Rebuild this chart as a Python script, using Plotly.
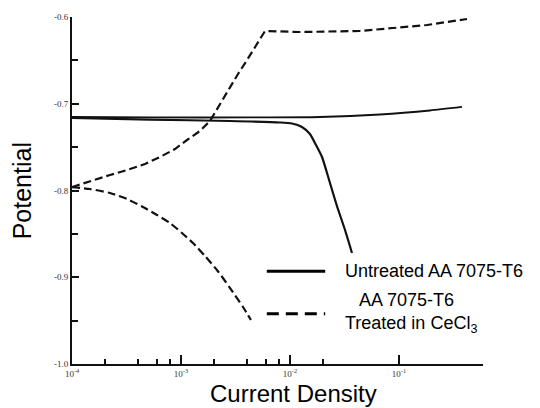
import plotly.graph_objects as go

# ---- data (log10 of current density, potential) ----
untreated_anodic_logi = [-4.000, -3.284, -2.367, -1.725, -1.174, -0.716, -0.422]
untreated_anodic_pot = [-0.7153, -0.7158, -0.7158, -0.7153, -0.7124, -0.7078, -0.7037]

untreated_cathodic_logi = [-4.000, -3.284, -2.550, -2.092, -1.982, -1.890, -1.817, -1.761,
                           -1.706, -1.633, -1.569, -1.495, -1.431]
untreated_cathodic_pot = [-0.7164, -0.7182, -0.7199, -0.7216, -0.7228, -0.7268, -0.7349, -0.7476,
                          -0.7614, -0.7914, -0.8179, -0.8455, -0.8720]

treated_anodic_logi = [-4.000, -3.807, -3.651, -3.495, -3.330, -3.193, -3.055, -2.945, -2.826,
                       -2.734, -2.642, -2.550, -2.477, -2.394, -2.312, -2.229, -1.908, -1.358,
                       -1.055, -0.743, -0.376]
treated_anodic_pot = [-0.7960, -0.7879, -0.7821, -0.7764, -0.7694, -0.7614, -0.7522, -0.7418,
                      -0.7314, -0.7199, -0.7003, -0.6807, -0.6657, -0.6496, -0.6323, -0.6161,
                      -0.6173, -0.6161, -0.6127, -0.6092, -0.6023]

treated_cathodic_logi = [-4.000, -3.835, -3.651, -3.495, -3.349, -3.220, -3.101, -2.991, -2.890,
                         -2.780, -2.670, -2.550, -2.431, -2.358]
treated_cathodic_pot = [-0.7960, -0.7983, -0.8029, -0.8098, -0.8190, -0.8282, -0.8375, -0.8490,
                        -0.8605, -0.8755, -0.8916, -0.9124, -0.9343, -0.9493]

x_tick_vals = [1e-4, 1e-3, 1e-2, 1e-1]
x_tick_text = ["10<sup>-4</sup>", "10<sup>-3</sup>", "10<sup>-2</sup>", "10<sup>-1</sup>"]
x_minor_vals = [2e-4, 4e-4, 6e-4, 8e-4, 2e-3, 4e-3, 6e-3, 8e-3, 2e-2]
y_tick_vals = [-1.0, -0.9, -0.8, -0.7, -0.6]
y_tick_text = ["-1.0", "-0.9", "-0.8", "-0.7", "-0.6"]

legend_labels = ["Untreated AA 7075-T6", "AA 7075-T6", "Treated in CeCl<sub>3</sub>"]
x_title = "Current Density"
y_title = "Potential"

ink = "#111111"


def tolin(v):
    return [10 ** a for a in v]


fig = go.Figure()
fig.add_trace(go.Scatter(x=tolin(untreated_anodic_logi), y=untreated_anodic_pot, mode="lines",
                         line=dict(color=ink, width=1.8, shape="spline", smoothing=0.6),
                         showlegend=False))
fig.add_trace(go.Scatter(x=tolin(untreated_cathodic_logi), y=untreated_cathodic_pot, mode="lines",
                         line=dict(color=ink, width=2.2, shape="spline", smoothing=0.6),
                         showlegend=False))
fig.add_trace(go.Scatter(x=tolin(treated_anodic_logi), y=treated_anodic_pot, mode="lines",
                         line=dict(color=ink, width=2.2, dash="8px,4px"),
                         showlegend=False))
fig.add_trace(go.Scatter(x=tolin(treated_cathodic_logi), y=treated_cathodic_pot, mode="lines",
                         line=dict(color=ink, width=2.2, dash="8px,4px", shape="spline", smoothing=0.6),
                         showlegend=False))

# legend drawn as line samples + text
fig.add_shape(type="line", xref="paper", yref="paper", x0=0.474, x1=0.616, y0=0.267, y1=0.267,
              line=dict(color="black", width=3))
fig.add_shape(type="line", xref="paper", yref="paper", x0=0.474, x1=0.616, y0=0.145, y1=0.145,
              line=dict(color="black", width=3, dash="12px,7px"))
fig.add_annotation(xref="paper", yref="paper", x=0.659, y=0.267, text=legend_labels[0],
                   showarrow=False, xanchor="left", yanchor="middle",
                   font=dict(family="Liberation Sans, Arial", size=18, color="black"))
fig.add_annotation(xref="paper", yref="paper", x=0.693, y=0.183, text=legend_labels[1],
                   showarrow=False, xanchor="left", yanchor="middle",
                   font=dict(family="Liberation Sans, Arial", size=18, color="black"))
fig.add_annotation(xref="paper", yref="paper", x=0.659, y=0.113, text=legend_labels[2],
                   showarrow=False, xanchor="left", yanchor="middle",
                   font=dict(family="Liberation Sans, Arial", size=18, color="black"))

# axis titles
fig.add_annotation(xref="paper", yref="paper", x=0.538, y=-0.085, text=x_title, showarrow=False,
                   xanchor="center", yanchor="middle",
                   font=dict(family="Liberation Sans, Arial", size=24, color="black"))
fig.add_annotation(xref="paper", yref="paper", x=-0.122, y=0.5, text=y_title, showarrow=False,
                   textangle=-90, xanchor="center", yanchor="middle",
                   font=dict(family="Liberation Sans, Arial", size=25, color="black"))

fig.update_xaxes(type="log", range=[-4, -0.229], showline=True, linecolor=ink, linewidth=1.8,
                 showgrid=False, zeroline=False, ticks="inside", ticklen=9, tickwidth=1.5,
                 tickcolor=ink, tickmode="array", tickvals=x_tick_vals, ticktext=x_tick_text,
                 tickfont=dict(family="Liberation Serif", size=9, color="#333"),
                 minor=dict(tickmode="array", tickvals=x_minor_vals, ticks="inside", ticklen=5,
                            tickwidth=1.5, tickcolor=ink, showgrid=False))
fig.update_yaxes(range=[-1.0, -0.6], showline=True, linecolor=ink, linewidth=1.8,
                 showgrid=False, zeroline=False, ticks="inside", ticklen=7, tickwidth=1.5,
                 tickcolor=ink, tickmode="array", tickvals=y_tick_vals, ticktext=y_tick_text,
                 tickfont=dict(family="Liberation Serif", size=9, color="#333"),
                 minor=dict(dtick=0.05, ticks="inside", ticklen=6, tickwidth=1.5,
                            tickcolor=ink, showgrid=False))

fig.update_layout(width=540, height=408, margin=dict(l=72, r=57, t=17, b=44),
                  paper_bgcolor="white", plot_bgcolor="white", showlegend=False)

fig.write_html("out.html")
